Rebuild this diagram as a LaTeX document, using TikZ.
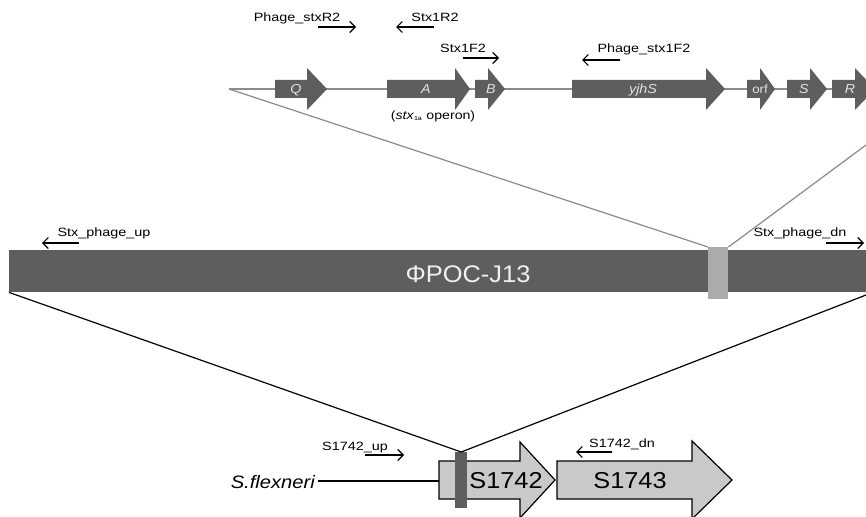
\documentclass[tikz,border=0pt]{standalone}
\usepackage{fontspec}
\usepackage{graphicx}
\setmainfont{Liberation Sans}
\usetikzlibrary{arrows.meta}
\definecolor{genegrey}{HTML}{5E5E5E}
\definecolor{linegrey}{HTML}{8A8A8A}
\definecolor{boxgrey}{HTML}{ABABAB}
\definecolor{hostgrey}{HTML}{C9C9C9}
\definecolor{genetext}{HTML}{E2E2E2}
\newcommand{\smalllab}[1]{\fontsize{12}{12}\selectfont\scalebox{1.2}[1]{#1}}
\newcommand{\genelab}[1]{\fontsize{13}{13}\selectfont\itshape\scalebox{1.1}[1]{#1}}
\newcommand{\genearrow}[3]{%
  \fill[genegrey] (#1,80) -- (#2,80) -- (#2,68) -- (#3,89) -- (#2,110) -- (#2,98) -- (#1,98) -- cycle;}
\begin{document}
\begin{tikzpicture}[x=1pt,y=-1pt,
  primer/.style={draw=black,line width=1.1pt,-{Straight Barb[length=5.5pt,width=11pt,line width=1.1pt]}},
  lab/.style={anchor=base,inner sep=0pt,text=black},
  glab/.style={anchor=base,inner sep=0pt,text=genetext},
  zoomgrey/.style={draw=linegrey,line width=1.2pt},
  zoomblack/.style={draw=black,line width=1.2pt}]
\clip (0,0) rectangle (866,516);
\fill[white] (0,0) rectangle (866,516);

% ---------- top gene map ----------
\coordinate (tl) at (229,89);
\coordinate (tr) at (866,89);
\draw[linegrey,line width=1.2pt] (tl) -- (tr);
\genearrow{275}{307}{327}
\genearrow{387}{455}{470}
\genearrow{475}{488}{505}
\genearrow{572}{706}{725}
\genearrow{747}{760}{775}
\genearrow{787}{810}{827}
\genearrow{832}{855}{875}
\node[glab] (gQ) at (296,94) {\genelab{Q}};
\node[glab] (gA) at (426,94) {\genelab{A}};
\node[glab] (gB) at (491,94) {\genelab{B}};
\node[glab] (gY) at (643,94) {\genelab{yjhS}};
\node[glab] (gO) at (760,94) {\fontsize{12}{12}\selectfont\scalebox{1.1}[1]{orf}};
\node[glab] (gS) at (804,94) {\genelab{S}};
\node[glab] (gR) at (850,94) {\genelab{R}};
\node[lab] (op) at (433,119) {\fontsize{12}{12}\selectfont\scalebox{1.18}[1]{(\textit{stx}\textsubscript{\fontsize{6}{6}\selectfont 1a} operon)}};

% primers top
\node[lab] (pR2) at (297,22) {\smalllab{Phage\_stxR2}};
\coordinate (pR2a) at (318,27); \coordinate (pR2b) at (356,27);
\draw[primer] (pR2a) -- (pR2b);
\node[lab] (sR2) at (435,22) {\smalllab{Stx1R2}};
\coordinate (sR2a) at (434,27); \coordinate (sR2b) at (396,27);
\draw[primer] (sR2a) -- (sR2b);
\node[lab] (sF2) at (463,53) {\smalllab{Stx1F2}};
\coordinate (sF2a) at (463,58); \coordinate (sF2b) at (499,58);
\draw[primer] (sF2a) -- (sF2b);
\node[lab] (pF2) at (644,53) {\smalllab{Phage\_stx1F2}};
\coordinate (pF2a) at (620,60); \coordinate (pF2b) at (582,60);
\draw[primer] (pF2a) -- (pF2b);

% ---------- phage bar ----------
\node[fill=genegrey,minimum width=857pt,minimum height=42pt,inner sep=0pt,anchor=north west] (bar) at (9,250) {};
\node[fill=boxgrey,minimum width=20pt,minimum height=52pt,inner sep=0pt,anchor=north west] (ins) at (708,247) {};
\node[anchor=base,inner sep=0pt,text=white!94!black] (phage) at (468,282) {\fontsize{24}{24}\selectfont\scalebox{1.06}[1]{ΦPOC-J13}};
\coordinate (trz) at (866,145);
\draw[zoomgrey] (tl) -- (ins.north west);
\draw[zoomgrey] (trz) -- (ins.north east);

\node[lab] (up) at (104,236) {\smalllab{Stx\_phage\_up}};
\coordinate (upa) at (79,243); \coordinate (upb) at (42,243);
\draw[primer] (upa) -- (upb);
\node[lab] (dn) at (800,236) {\smalllab{Stx\_phage\_dn}};
\coordinate (dna) at (826,243); \coordinate (dnb) at (864,243);
\draw[primer] (dna) -- (dnb);

% ---------- host locus ----------
\coordinate (hl) at (318,481);
\draw[black,line width=1.4pt] (hl) -- (440,481);
\node[anchor=base east,inner sep=0pt] (sf) at (315,488) {\fontsize{18}{18}\selectfont\itshape\scalebox{1.12}[1]{S.flexneri}};
\filldraw[fill=hostgrey,draw=black,line width=1.2pt] (439,461) -- (520,461) -- (520,442) -- (555,480) -- (520,518) -- (520,499) -- (439,499) -- cycle;
\filldraw[fill=hostgrey,draw=black,line width=1.2pt] (557,461) -- (692,461) -- (692,441) -- (732,480) -- (692,519) -- (692,499) -- (557,499) -- cycle;
\node[fill=genegrey,minimum width=12pt,minimum height=56pt,inner sep=0pt,anchor=north west] (mark) at (455,452) {};
\node[anchor=base,inner sep=0pt] (s42) at (506,488) {\fontsize{23}{23}\selectfont\scalebox{1.1}[1]{S1742}};
\node[anchor=base,inner sep=0pt] (s43) at (630,488) {\fontsize{23}{23}\selectfont\scalebox{1.1}[1]{S1743}};
\draw[zoomblack] (bar.south west) -- (mark.north);
\coordinate (brz) at (866,295);
\draw[zoomblack] (brz) -- (mark.north);

\node[lab] (sup) at (355,450) {\smalllab{S1742\_up}};
\coordinate (supa) at (365,455); \coordinate (supb) at (404,455);
\draw[primer] (supa) -- (supb);
\node[lab] (sdn) at (622,447) {\smalllab{S1742\_dn}};
\coordinate (sdna) at (612,452); \coordinate (sdnb) at (576,452);
\draw[primer] (sdna) -- (sdnb);
\end{tikzpicture}
\end{document}
